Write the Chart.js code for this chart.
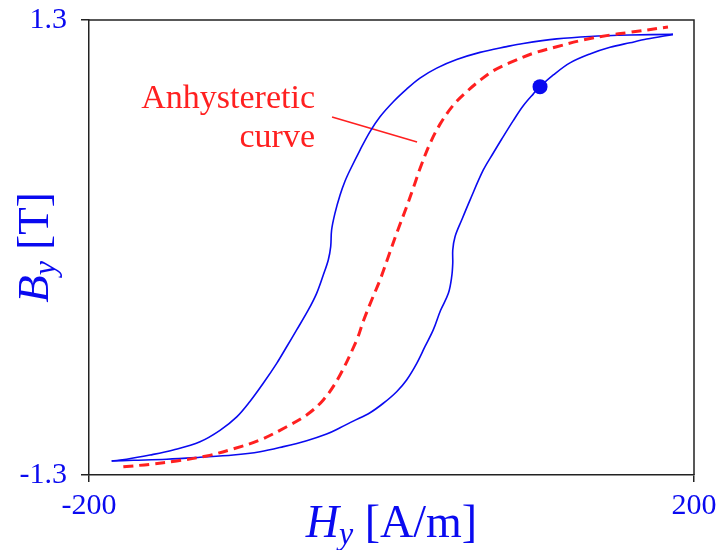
<!DOCTYPE html>
<html>
<head>
<meta charset="utf-8">
<script src="https://cdn.jsdelivr.net/npm/chart.js@4.4.1/dist/chart.umd.min.js"></script>
<style>
  html, body { margin: 0; padding: 0; background: #fff; }
</style>
</head>
<body>
<canvas id="bh_chart" width="721" height="550"></canvas>
<script>
// descending branch of the loop, from the upper tip down to the lower tip (H in A/m, B in T)
var desc_h = [186.1, 157.7, 131.2, 109.2, 87.1, 76.2, 58.5, 43.1, 29.9, 18.8, 10.0, 1.2, -7.6, -14.2, -20.8, -27.4, -30.7, -34.0, -37.4, -39.6, -40.2, -41.8, -45.1, -49.5, -55.0, -62.7, -69.3, -75.9, -84.8, -93.6, -102.3, -113.4, -126.6, -144.3, -159.7, -175.1, -185.0];
var desc_b = [1.218, 1.214, 1.206, 1.192, 1.166, 1.148, 1.115, 1.074, 1.025, 0.968, 0.905, 0.833, 0.747, 0.662, 0.557, 0.443, 0.380, 0.300, 0.195, 0.100, 0.005, -0.071, -0.157, -0.262, -0.357, -0.471, -0.567, -0.662, -0.776, -0.880, -0.968, -1.045, -1.110, -1.157, -1.186, -1.210, -1.220];

// ascending branch, lower tip back up to the upper tip
var asc_h = [-185.0, -170.7, -148.6, -126.6, -104.6, -86.9, -71.5, -56.1, -42.9, -34.0, -25.3, -14.2, -5.4, 3.4, 10.0, 16.7, 22.1, 27.6, 32.4, 37.6, 39.8, 40.5, 40.5, 42.0, 46.4, 51.9, 60.7, 67.3, 72.9, 80.5, 87.1, 93.8, 98.2, 107.0, 118.0, 131.2, 144.5, 157.7, 168.7, 186.1];
var asc_b = [-1.220, -1.216, -1.210, -1.199, -1.186, -1.167, -1.138, -1.104, -1.066, -1.030, -0.992, -0.944, -0.890, -0.824, -0.757, -0.662, -0.567, -0.471, -0.360, -0.262, -0.167, -0.090, -0.014, 0.062, 0.157, 0.271, 0.443, 0.540, 0.620, 0.725, 0.810, 0.878, 0.919, 0.986, 1.055, 1.106, 1.144, 1.170, 1.191, 1.218];

// anhysteretic curve
var anh_h = [-177.3, -159.7, -142.0, -122.2, -104.6, -86.9, -69.3, -56.1, -45.1, -35.2, -23.0, -18.6, -13.1, -7.6, -2.1, 3.4, 10.0, 15.5, 18.8, 25.5, 32.1, 40.9, 49.7, 58.5, 67.3, 78.3, 93.8, 109.2, 126.8, 144.5, 155.5, 182.8];
var anh_b = [-1.253, -1.239, -1.220, -1.191, -1.151, -1.100, -1.024, -0.957, -0.871, -0.747, -0.529, -0.420, -0.300, -0.186, -0.053, 0.081, 0.233, 0.367, 0.450, 0.595, 0.705, 0.814, 0.890, 0.955, 1.010, 1.056, 1.110, 1.147, 1.186, 1.214, 1.227, 1.260];

// operating point on the ascending branch
var dot_h = [98.2];
var dot_b = [0.919];

// label and its pointer line
var label_lines = ["Anhysteretic", "curve"];
var label_h = -50.6;
var label_b = [0.80, 0.576];
var ptr_h = [-39.3, 16.9];
var ptr_b = [0.746, 0.603];

// axes
var h_ticks = [-200, 200];
var h_tick_labels = ["-200", "200"];
var b_ticks = [-1.3, 1.3];
var b_tick_labels = ["-1.3", "1.3"];

var loop_blue = "#0a0af0";
var curve_red = "#ff2020";
var frame_color = "#222";
var serif = '"Liberation Serif", "DejaVu Serif", serif';

var to_points = (xs, ys) => xs.map((x, i) => ({ x: x, y: ys[i] }));

// top and right edges of the frame
var frame_box = {
    id: "frame_box",
    afterDraw: (chart) => {
        var a = chart.chartArea, ctx = chart.ctx;
        ctx.save();
        ctx.strokeStyle = frame_color;
        ctx.lineWidth = 1.5;
        ctx.beginPath();
        ctx.moveTo(a.left, a.top);
        ctx.lineTo(a.right, a.top);
        ctx.lineTo(a.right, a.bottom);
        ctx.stroke();
        ctx.restore();
    }
};

var curve_label = {
    id: "curve_label",
    afterDatasetsDraw: (chart) => {
        var ctx = chart.ctx, sx = chart.scales.x, sy = chart.scales.y;
        ctx.save();
        ctx.fillStyle = curve_red;
        ctx.font = "34px " + serif;
        ctx.textAlign = "right";
        ctx.textBaseline = "alphabetic";
        label_lines.forEach((t, i) => {
            ctx.fillText(t, sx.getPixelForValue(label_h), sy.getPixelForValue(label_b[i]));
        });
        ctx.restore();
    }
};

// draws text runs centred on x, each with its own font and baseline shift
var draw_runs = (ctx, runs, x, y) => {
    var total = 0;
    runs.forEach((r) => { ctx.font = r.font; total += ctx.measureText(r.text).width; });
    var cx = x - total / 2;
    runs.forEach((r) => {
        ctx.font = r.font;
        ctx.fillText(r.text, cx, y + r.dy);
        cx += ctx.measureText(r.text).width;
    });
};

var axis_titles = {
    id: "axis_titles",
    afterDraw: (chart) => {
        var ctx = chart.ctx, a = chart.chartArea;
        ctx.save();
        ctx.fillStyle = loop_blue;
        ctx.textAlign = "left";
        ctx.textBaseline = "alphabetic";
        draw_runs(ctx, [
            { text: "H", font: "italic 46px " + serif, dy: 0 },
            { text: "y", font: "italic 32px " + serif, dy: 7 },
            { text: " [A/m]", font: "46px " + serif, dy: 0 }
        ], (a.left + a.right) / 2, 537);
        ctx.translate(48, (a.top + a.bottom) / 2);
        ctx.rotate(-Math.PI / 2);
        draw_runs(ctx, [
            { text: "B", font: "italic 45px " + serif, dy: 0 },
            { text: "y", font: "italic 32px " + serif, dy: 7 },
            { text: " [T]", font: "45px " + serif, dy: 0 }
        ], 0, 0);
        ctx.restore();
    }
};

var tick_font = { family: serif, size: 30 };

var config = {
    type: "scatter",
    data: {
        datasets: [
            {
                data: to_points(dot_h, dot_b),
                pointRadius: 7.5,
                pointBackgroundColor: loop_blue,
                pointBorderWidth: 0,
                order: 0
            },
            {
                data: to_points(desc_h, desc_b),
                showLine: true,
                borderColor: loop_blue,
                borderWidth: 1.6,
                pointRadius: 0,
                tension: 0.35,
                order: 2
            },
            {
                data: to_points(asc_h, asc_b),
                showLine: true,
                borderColor: loop_blue,
                borderWidth: 1.6,
                pointRadius: 0,
                tension: 0.35,
                order: 2
            },
            {
                data: to_points(anh_h, anh_b),
                showLine: true,
                borderColor: curve_red,
                borderWidth: 3,
                borderDash: [10, 6],
                pointRadius: 0,
                tension: 0.35,
                order: 1
            },
            {
                data: to_points(ptr_h, ptr_b),
                showLine: true,
                borderColor: curve_red,
                borderWidth: 1.5,
                pointRadius: 0,
                order: 3
            }
        ]
    },
    options: {
        responsive: false,
        animation: false,
        layout: { padding: { left: 0, top: 20, right: 27, bottom: 0 } },
        plugins: {
            legend: { display: false },
            tooltip: { enabled: false }
        },
        scales: {
            x: {
                type: "linear",
                min: -200,
                max: 200,
                afterBuildTicks: (scale) => { scale.ticks = h_ticks.map((v) => ({ value: v })); },
                afterFit: (scale) => {
                    scale.height = 75;
                    scale.paddingLeft = 0;
                    scale.paddingRight = 0;
                },
                ticks: {
                    color: loop_blue,
                    font: tick_font,
                    padding: 6,
                    maxRotation: 0,
                    callback: (v, i) => h_tick_labels[i]
                },
                grid: { drawOnChartArea: false, drawTicks: true, tickLength: 7, color: frame_color, lineWidth: 1.5 },
                border: { display: true, color: frame_color, width: 1.5 }
            },
            y: {
                type: "linear",
                min: -1.3,
                max: 1.3,
                afterBuildTicks: (scale) => { scale.ticks = b_ticks.map((v) => ({ value: v })); },
                afterFit: (scale) => {
                    scale.width = 89;
                    scale.paddingTop = 0;
                    scale.paddingBottom = 0;
                },
                ticks: {
                    color: loop_blue,
                    font: tick_font,
                    padding: 14,
                    callback: (v, i) => b_tick_labels[i]
                },
                grid: { drawOnChartArea: false, drawTicks: true, tickLength: 8, color: frame_color, lineWidth: 1.5 },
                border: { display: true, color: frame_color, width: 1.5 }
            }
        }
    },
    plugins: [frame_box, curve_label, axis_titles]
};

var bh_chart = new Chart(document.getElementById("bh_chart"), config);
</script>
</body>
</html>
